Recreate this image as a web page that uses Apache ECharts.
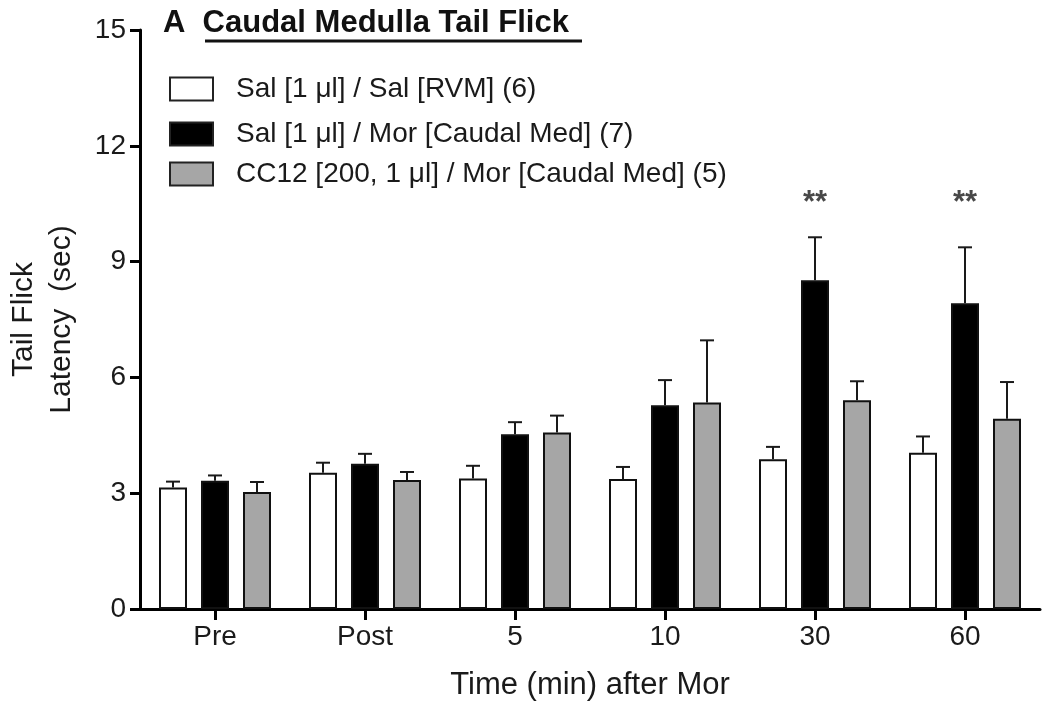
<!DOCTYPE html>
<html>
<head>
<meta charset="utf-8">
<script src="https://cdn.jsdelivr.net/npm/echarts@6/dist/echarts.min.js"></script>
<style>
html,body{margin:0;padding:0;background:#fff;}
#chart{width:1050px;height:705px;}
</style>
</head>
<body>
<div id="chart"></div>
<script>
// ---- data ----
const categories = ['Pre', 'Post', '5', '10', '30', '60'];
const seriesNames = [
  'Sal [1 μl] / Sal [RVM] (6)',
  'Sal [1 μl] / Mor [Caudal Med] (7)',
  'CC12 [200, 1 μl] / Mor [Caudal Med] (5)'
];
const salSalMean = [3.15, 3.53, 3.38, 3.37, 3.88, 4.05];
const salSalSem  = [0.15, 0.26, 0.33, 0.31, 0.32, 0.42];
const salMorMean = [3.32, 3.76, 4.53, 5.28, 8.52, 7.92];
const salMorSem  = [0.14, 0.26, 0.31, 0.65, 1.11, 1.45];
const ccMorMean  = [3.03, 3.34, 4.57, 5.35, 5.41, 4.93];
const ccMorSem   = [0.26, 0.21, 0.44, 1.61, 0.49, 0.95];
const sigCategories = ['30', '60'];
const sigLabel = '**';
const sigLevel = 10.5;
const yTicks = [0, 3, 6, 9, 12, 15];

// ---- style ----
const FONT = '"Liberation Sans", Arial, sans-serif';
const TXT = '#1a1a1a';
const BAR_W = 28, BAR_GAP = 14;
const fills = ['#ffffff', '#000000', '#a6a6a6'];
const means = [salSalMean, salMorMean, ccMorMean];
const sems = [salSalSem, salMorSem, ccMorSem];

const chart = echarts.init(document.getElementById('chart'), null, {renderer: 'canvas'});

const series = [];
means.forEach((m, i) => {
  series.push({
    name: seriesNames[i],
    type: 'bar',
    data: m,
    barWidth: BAR_W,
    barGap: (BAR_GAP / BAR_W * 100) + '%',
    itemStyle: {color: fills[i], borderColor: '#111', borderWidth: 2},
    z: 2
  });
});
means.forEach((m, i) => {
  const offset = (i - 1) * (BAR_W + BAR_GAP);
  series.push({
    type: 'custom',
    data: m.map((v, k) => [k, v, sems[i][k]]),
    encode: {x: 0, y: 1},
    z: 3,
    silent: true,
    renderItem: function (params, api) {
      const ci = api.value(0), v = api.value(1), e = api.value(2);
      const b = api.coord([ci, v]);
      const t = api.coord([ci, v + e]);
      const x = b[0] + offset;
      const st = {stroke: '#1a1a1a', lineWidth: 2};
      return {type: 'group', children: [
        {type: 'line', shape: {x1: x, y1: b[1], x2: x, y2: t[1]}, style: st},
        {type: 'line', shape: {x1: x - 7, y1: t[1], x2: x + 7, y2: t[1]}, style: st}
      ]};
    }
  });
});
series.push({
  type: 'scatter',
  data: sigCategories.map(c => [c, sigLevel]),
  symbolSize: 0,
  silent: true,
  label: {show: true, formatter: sigLabel, position: 'inside', fontSize: 31, fontWeight: 'bold', color: TXT, fontFamily: FONT}
});

const legendTops = [75, 120, 160];
const legends = seriesNames.map((n, i) => ({
  data: [{name: n, icon: 'rect', itemStyle: {color: fills[i], borderColor: '#222', borderWidth: 2}}],
  left: 169,
  top: legendTops[i],
  padding: 0,
  orient: 'vertical',
  itemWidth: 43,
  itemHeight: 23,
  selectedMode: false,
  textStyle: {fontSize: 28, color: TXT, fontFamily: FONT, padding: [0, 0, 0, 18]}
}));

chart.setOption({
  backgroundColor: '#fff',
  animation: false,
  title: {
    text: 'A  Caudal Medulla Tail Flick',
    left: 163, top: 8, padding: 0,
    textStyle: {fontSize: 31, fontWeight: 'bold', color: '#111', fontFamily: FONT}
  },
  graphic: [{
    type: 'line', shape: {x1: 205, y1: 41, x2: 582, y2: 41},
    style: {stroke: '#111', lineWidth: 3}
  }],
  legend: legends,
  grid: {left: 140, right: 10, top: 30, bottom: 96, outerBoundsMode: 'none', containLabel: false},
  xAxis: {
    type: 'category',
    data: categories,
    name: 'Time (min) after Mor',
    nameLocation: 'middle',
    nameGap: 61,
    nameTextStyle: {fontSize: 31, color: TXT, fontFamily: FONT},
    axisLine: {lineStyle: {color: '#000', width: 3}},
    axisTick: {show: true, alignWithLabel: true, length: 11, lineStyle: {color: '#000', width: 3}},
    axisLabel: {fontSize: 28, color: TXT, fontFamily: FONT, margin: 14},
    splitLine: {show: false}
  },
  yAxis: {
    type: 'value',
    min: yTicks[0], max: yTicks[yTicks.length - 1], interval: yTicks[1] - yTicks[0],
    name: 'Tail Flick\nLatency  (sec)',
    nameLocation: 'middle',
    nameGap: 59,
    nameRotate: 90,
    nameTextStyle: {fontSize: 30, color: TXT, fontFamily: FONT, lineHeight: 38},
    axisLine: {show: true, lineStyle: {color: '#000', width: 3}},
    axisTick: {show: true, length: 10, lineStyle: {color: '#000', width: 3}},
    axisLabel: {fontSize: 28, color: TXT, fontFamily: FONT, margin: 14},
    splitLine: {show: false}
  },
  series: series
});
</script>
</body>
</html>
